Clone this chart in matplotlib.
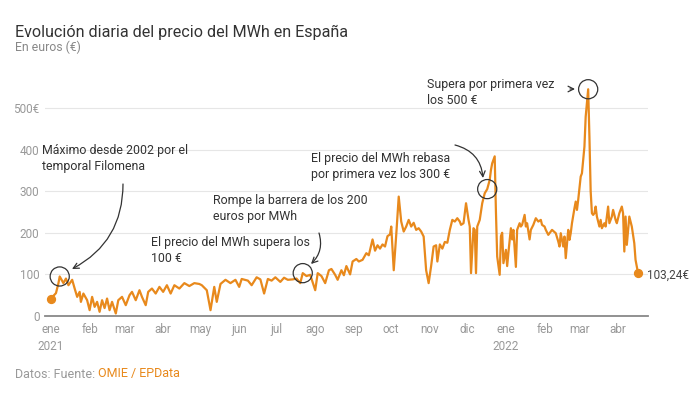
import pandas as pd
import matplotlib
matplotlib.use("Agg")
import matplotlib.pyplot as plt

plt.rcParams['font.family'] = ['Roboto', 'DejaVu Sans']

# precio diario del MWh (aprox.), dias desde el 1 de enero de 2021
inicio = pd.Timestamp('2021-01-01')
dias = [0, 4, 6, 7, 10, 12, 14, 17, 19, 21, 23, 24, 26, 29, 31, 33, 35, 37, 39, 41,
        43, 45, 47, 49, 52, 54, 57, 60, 63, 65, 68, 71, 73, 76, 78, 81, 84, 87, 90, 93,
        96, 99, 103, 107, 111, 115, 119, 121, 125, 128, 131, 133, 136, 140, 144, 148, 151, 153, 158, 161,
        165, 168, 171, 174, 177, 180, 184, 187, 190, 194, 197, 200, 202, 205, 208, 212, 214, 217, 220, 223,
        225, 228, 230, 233, 235, 237, 240, 242, 245, 247, 250, 253, 255, 258, 260, 262, 264, 266, 268, 270,
        272, 273, 275, 277, 279, 281, 283, 285, 287, 289, 291, 293, 295, 297, 299, 300, 301, 303, 305, 307,
        309, 310, 312, 314, 316, 318, 320, 322, 324, 326, 328, 329, 331, 333, 335, 336, 337, 339, 340, 341,
        342, 344, 346, 348, 350, 352, 353, 354, 356, 357, 358, 360, 361, 362, 363, 365, 366, 367, 369, 370,
        371, 373, 374, 376, 377, 378, 380, 381, 382, 384, 385, 387, 389, 391, 393, 394, 396, 397, 399, 402,
        405, 407, 408, 409, 411, 412, 413, 415, 416, 417, 418, 420, 421, 422, 423, 425, 426, 427, 428, 429,
        431, 432, 433, 434, 435, 436, 437, 438, 440, 441, 442, 444, 445, 447, 448, 450, 451, 453, 454, 456,
        458, 459, 460, 461, 462, 464, 465, 466, 468, 469, 471]
precio = [42, 55, 79, 94.99, 79, 90, 74, 87, 66, 46, 58, 34, 54, 38, 14, 46, 22, 34, 10, 38,
          19, 42, 14, 34, 6, 38, 46, 26, 50, 58, 38, 62, 46, 26, 58, 66, 54, 70, 58, 74,
          54, 74, 66, 79, 72, 79, 77, 74, 62, 14, 70, 34, 77, 87, 79, 87, 70, 89, 85, 74,
          93, 88, 54, 89, 85, 93, 82, 92, 87, 88, 90, 79, 103, 96, 99, 62, 103, 96, 79, 110,
          113, 99, 87, 110, 98, 120, 100, 131, 137, 131, 135, 151, 146, 184, 157, 170, 162, 172, 167, 192,
          196, 215, 110, 195, 287, 227, 203, 215, 231, 215, 224, 207, 211, 203, 191, 151, 110, 79, 120, 167,
          170, 131, 172, 162, 178, 176, 207, 231, 227, 235, 227, 219, 223, 271, 231, 215, 103, 211, 207, 103,
          215, 231, 271, 295, 305, 327, 351, 367, 383.67, 250, 143, 99, 192, 200, 127, 159, 120, 152, 211, 184,
          207, 118, 207, 223, 215, 219, 243, 215, 223, 184, 207, 219, 235, 227, 231, 219, 215, 207, 195, 207,
          199, 179, 167, 199, 167, 191, 139, 207, 183, 199, 223, 259, 275, 255, 279, 335, 343, 375, 407, 479,
          544.98, 431, 300, 247, 243, 247, 263, 239, 215, 231, 211, 223, 215, 263, 223, 239, 255, 231, 223, 247,
          263, 247, 155, 239, 171, 239, 227, 215, 175, 135, 103.24]

meses = ['ene\n2021', 'feb', 'mar', 'abr', 'may', 'jun', 'jul', 'ago', 'sep', 'oct', 'nov', 'dic',
         'ene\n2022', 'feb', 'mar', 'abr']
y_ticks = [0, 100, 200, 300, 400, 500]
y_labels = ['0', '100', '200', '300', '400', '500€']

fechas = inicio + pd.to_timedelta(dias, unit='D')
naranja = '#E8891C'
gris = '#999999'
W, H = 694, 393

fig = plt.figure(figsize=(W / 100, H / 100), dpi=100)
ax = fig.add_axes([45 / W, 1 - 316 / H, (648 - 45) / W, 233 / H])

ax.plot(fechas, precio, color=naranja, lw=1.6, zorder=3, solid_joinstyle='round')
ax.scatter([fechas[0], fechas[-1]], [precio[0], precio[-1]], s=32, color=naranja, zorder=4,
           clip_on=False)

# circulos en los hitos
def hito(i):
    ax.scatter([fechas[i]], [precio[i]], s=190, facecolor='none', edgecolor='#333333', lw=0.9,
               zorder=5, clip_on=False)

hito(precio.index(max(precio[:30])))
hito(next(i for i, p in enumerate(precio) if p > 100))
hito(next(i for i, p in enumerate(precio) if p > 300))
hito(precio.index(max(precio)))

ax.set_xlim(inicio - pd.Timedelta(days=4.8), inicio + pd.Timedelta(days=479))
ax.set_ylim(0, 560)
ticks = pd.date_range('2021-01-01', periods=len(meses), freq='MS')
ax.set_xticks(ticks)
ax.set_xticklabels(meses, color=gris, fontsize=8.5, linespacing=1.45)
ax.set_yticks(y_ticks)
ax.set_yticklabels(y_labels, color=gris, fontsize=8.5)
ax.tick_params(length=0, pad=4)
ax.tick_params(axis='x', pad=5)
ax.grid(axis='y', color='#e6e6e6', lw=0.8)
ax.set_axisbelow(True)
for s in ['top', 'right', 'left']:
    ax.spines[s].set_visible(False)
ax.spines['bottom'].set_color('#888888')
ax.spines['bottom'].set_linewidth(1.3)

def px(x, y):
    return x / W, 1 - y / H

fig.text(*px(15, 32), 'Evolución diaria del precio del MWh en España', fontsize=11.6,
         color='#333333', va='center')
fig.text(*px(15, 47), 'En euros (€)', fontsize=8.8, color='#888888', va='center')

notas = [
    (42, 144, 'Máximo desde 2002 por el\ntemporal Filomena'),
    (151, 236, 'El precio del MWh supera los\n100 €'),
    (213, 194, 'Rompe la barrera de los 200\neuros por MWh'),
    (311, 152, 'El precio del MWh rebasa\npor primera vez los 300 €'),
    (427, 78, 'Supera por primera vez\nlos 500 €'),
]
for x, y, t in notas:
    fig.text(*px(x, y), t, fontsize=8.9, color='#333333', va='top', linespacing=1.3)

fig.text(*px(647, 275), '103,24€', fontsize=8.5, color='#444444', va='center')

flechas = [((123, 184), (72, 269), -0.3),
           ((319, 233), (311, 264), -0.3),
           ((455, 145), (483, 178), -0.35),
           ((570, 89), (575, 89), 0.0)]
for (x0, y0), (x1, y1), rad in flechas:
    ax.annotate('', xy=(x1, H - y1), xytext=(x0, H - y0),
                xycoords='figure pixels', textcoords='figure pixels',
                arrowprops=dict(arrowstyle='->', color='#333333', lw=0.9,
                                connectionstyle=f'arc3,rad={rad}',
                                shrinkA=0, shrinkB=0))

t1 = fig.text(*px(15, 374), 'Datos: Fuente: ', fontsize=9, color=gris, va='center')
fig.canvas.draw()
bb = t1.get_window_extent()
fig.text(bb.x1 / W, 1 - 374 / H, 'OMIE / EPData', fontsize=9, color=naranja, va='center')

fig.savefig('out.png', dpi=100)
